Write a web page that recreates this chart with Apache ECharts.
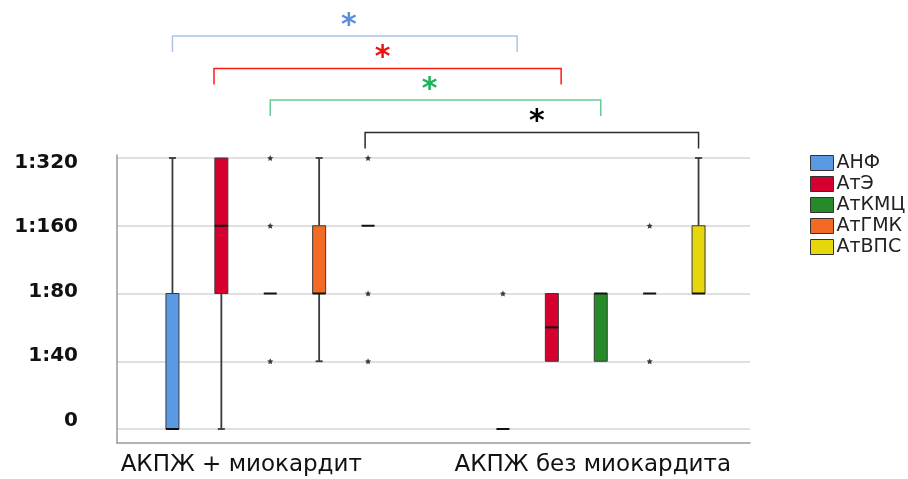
<!DOCTYPE html>
<html>
<head>
<meta charset="utf-8">
<script src="https://cdn.jsdelivr.net/npm/echarts@6/dist/echarts.min.js"></script>
<style>
  html, body { margin: 0; padding: 0; background: #fff; }
  #chart { width: 908px; height: 479px; }
</style>
</head>
<body>
<div id="chart"></div>
<script>
// группы и подписи титров
var groups = ['АКПЖ + миокардит', 'АКПЖ без миокардита'];
var titreLabels = ['0', '1:40', '1:80', '1:160', '1:320'];
var seriesNames = ['АНФ', 'АтЭ', 'АтКМЦ', 'АтГМК', 'АтВПС'];

// [min, q1, median, q3, max] в индексах титра (0 .. 4), по группам
var boxAnf   = [[0, 0, 0, 2, 4], [0, 0, 0, 0, 0]];
var boxAte   = [[0, 2, 3, 4, 4], [1, 1, 1.5, 2, 2]];
var boxAtkmc = [[2, 2, 2, 2, 2], [1, 1, 2, 2, 2]];
var boxAtgmk = [[1, 2, 2, 3, 4], [2, 2, 2, 2, 2]];
var boxAtvps = [[3, 3, 3, 3, 3], [2, 2, 2, 3, 4]];

// выбросы: [группа, титр]
var outAnf   = [[1, 2]];
var outAte   = [];
var outAtkmc = [[0, 4], [0, 3], [0, 1]];
var outAtgmk = [[1, 3], [1, 1]];
var outAtvps = [[0, 4], [0, 2], [0, 1]];

var boxes = [boxAnf, boxAte, boxAtkmc, boxAtgmk, boxAtvps];
var outliers = [outAnf, outAte, outAtkmc, outAtgmk, outAtvps];
var colors = ['#5a9ae4', '#d6002f', '#268a2a', '#f26a24', '#e6d60c'];

var SLOT = 48.9;   // шаг между ящиками внутри группы
var BOX_W = 13;
var STAR = 'path://M0,-10L2.94,-4.05L9.51,-3.09L4.76,1.55L5.88,8.09L0,5L-5.88,8.09L-4.76,1.55L-9.51,-3.09L-2.94,-4.05Z';

function makeRenderer(i) {
  return function (params, api) {
    var g = api.value(0);
    var x = api.coord([g, 0])[0] + (i - 2) * SLOT;
    var y = function (k) { return api.coord([g, api.value(k)])[1]; };
    var yMin = y(1), yQ1 = y(2), yMed = y(3), yQ3 = y(4), yMax = y(5);
    var hw = BOX_W / 2;
    var wStyle = { stroke: '#3a3a3a', lineWidth: 1.8 };
    var children = [];
    if (yMax < yQ3) {
      children.push({ type: 'line', shape: { x1: x, y1: yQ3, x2: x, y2: yMax }, style: wStyle });
      children.push({ type: 'line', shape: { x1: x - 3.5, y1: yMax, x2: x + 3.5, y2: yMax }, style: wStyle });
    }
    if (yMin > yQ1) {
      children.push({ type: 'line', shape: { x1: x, y1: yQ1, x2: x, y2: yMin }, style: wStyle });
      children.push({ type: 'line', shape: { x1: x - 3.5, y1: yMin, x2: x + 3.5, y2: yMin }, style: wStyle });
    }
    if (yQ1 > yQ3) {
      children.push({
        type: 'rect',
        shape: { x: x - hw, y: yQ3, width: BOX_W, height: yQ1 - yQ3 },
        style: { fill: colors[i], stroke: '#3a3a3a', lineWidth: 1 }
      });
    }
    children.push({
      type: 'line',
      shape: { x1: x - hw, y1: yMed, x2: x + hw, y2: yMed },
      style: { stroke: '#111', lineWidth: 2 }
    });
    return { type: 'group', children: children };
  };
}

var series = [];
seriesNames.forEach(function (name, i) {
  series.push({
    name: name,
    type: 'custom',
    xAxisIndex: 0,
    yAxisIndex: 0,
    itemStyle: { color: colors[i] },
    renderItem: makeRenderer(i),
    encode: { x: 0, y: [1, 2, 3, 4, 5] },
    data: boxes[i].map(function (b, g) { return [g].concat(b); }),
    z: 3
  });
});
seriesNames.forEach(function (name, i) {
  series.push({
    name: name + ' выбросы',
    type: 'scatter',
    xAxisIndex: 0,
    yAxisIndex: 0,
    symbol: STAR,
    symbolSize: 6,
    symbolOffset: [(i - 2) * SLOT, 0],
    itemStyle: { color: '#111' },
    silent: true,
    data: outliers[i],
    z: 4
  });
});

var labelShift = [58, 16];
var richX = {};
labelShift.forEach(function (s, i) {
  richX['l' + i] = {
    fontFamily: 'DejaVu Sans', fontSize: 23, color: '#111',
    padding: [0, s, 0, 0]
  };
});

var noBounds = { outerBoundsMode: 'none', containLabel: false };
var chart = echarts.init(document.getElementById('chart'), null, { renderer: 'canvas' });
chart.setOption({
  animation: false,
  backgroundColor: '#fff',
  grid: [
    Object.assign({ left: 105, right: 142, top: 158, bottom: 50 }, noBounds),
    Object.assign({ left: 117, right: 158, top: 158, bottom: 50 }, noBounds),
    Object.assign({ left: 117, right: 158, top: 155, bottom: 36 }, noBounds),
    Object.assign({ left: 117, right: 158, top: 162.5, bottom: 58.5 }, noBounds)
  ],
  xAxis: [
    {
      gridIndex: 0, type: 'category', data: groups,
      axisLine: { show: false }, axisTick: { show: false }, splitLine: { show: false },
      axisLabel: {
        margin: 25,
        formatter: function (v, idx) { return '{l' + idx + '|' + v + '}'; },
        rich: richX
      }
    },
    { gridIndex: 1, type: 'category', data: groups, show: false },
    {
      gridIndex: 2, type: 'value', min: 0, max: 1,
      axisLine: { show: true, lineStyle: { color: '#9a9a9a', width: 1.5 } },
      axisTick: { show: false }, axisLabel: { show: false }, splitLine: { show: false }
    },
    { gridIndex: 3, type: 'category', data: groups, show: false }
  ],
  yAxis: [
    {
      gridIndex: 0, type: 'value', min: 0, max: 4, interval: 1,
      axisLine: { show: false }, axisTick: { show: false }, axisLabel: { show: false },
      splitLine: { show: false }
    },
    {
      gridIndex: 1, type: 'value', min: 0, max: 4, interval: 1,
      axisLine: { show: false }, axisTick: { show: false }, axisLabel: { show: false },
      splitLine: { show: true, lineStyle: { color: '#d6d6d6', width: 1.5 } }
    },
    {
      gridIndex: 2, type: 'value', min: 0, max: 1,
      axisLine: { show: true, lineStyle: { color: '#9a9a9a', width: 1.5 } },
      axisTick: { show: false }, axisLabel: { show: false }, splitLine: { show: false }
    },
    {
      gridIndex: 3, type: 'value', min: 0, max: 4, interval: 1,
      axisLine: { show: false }, axisTick: { show: false }, splitLine: { show: false },
      axisLabel: {
        margin: 39,
        fontFamily: 'DejaVu Sans', fontWeight: 'bold', fontSize: 20, color: '#111',
        formatter: function (v) { return titreLabels[v]; }
      }
    }
  ],
  legend: {
    orient: 'vertical',
    left: 810,
    top: 153.5,
    padding: 0,
    itemWidth: 23,
    itemHeight: 15,
    itemGap: 2,
    textStyle: { fontFamily: 'DejaVu Sans', fontSize: 19, color: '#222', padding: [0, 0, 0, -2] },
    data: seriesNames.map(function (n, i) {
      return {
        name: n, icon: 'rect',
        itemStyle: { color: colors[i], borderColor: '#333', borderWidth: 1 }
      };
    })
  },
  series: series
});

// скобки значимых различий: [позиция слева, позиция справа] в шагах SLOT от центра группы
var brackets = [
  { from: -2,    to: -1.71, top: 36,    color: '#a9c5ea', star: '#5b8fd9', dx: 4 },
  { from: -1.15, to: -0.81, top: 68.5,  color: '#ff1a1a', star: '#ee1111', dx: -5 },
  { from: 0,     to: 0,     top: 100,   color: '#66cc92', star: '#1db35a', dx: -6 },
  { from: 1.94,  to: 2,     top: 132.5, color: '#2a2a2a', star: '#000', dx: 5 }
];
var c0 = chart.convertToPixel({ xAxisIndex: 0 }, 0);
var c1 = chart.convertToPixel({ xAxisIndex: 0 }, 1);
var graphics = [];
brackets.forEach(function (b) {
  var x1 = c0 + b.from * SLOT;
  var x2 = c1 + b.to * SLOT;
  graphics.push({
    type: 'polyline', silent: true,
    shape: { points: [[x1, b.top + 16], [x1, b.top], [x2, b.top], [x2, b.top + 16]] },
    style: { stroke: b.color, lineWidth: 1.5, fill: null }
  });
  graphics.push({
    type: 'text', silent: true,
    x: (x1 + x2) / 2 + b.dx, y: b.top + 5,
    style: {
      text: '*', fill: b.star, font: 'bold 30px "DejaVu Sans"',
      align: 'center', verticalAlign: 'bottom'
    }
  });
});
chart.setOption({ graphic: graphics });
</script>
</body>
</html>
